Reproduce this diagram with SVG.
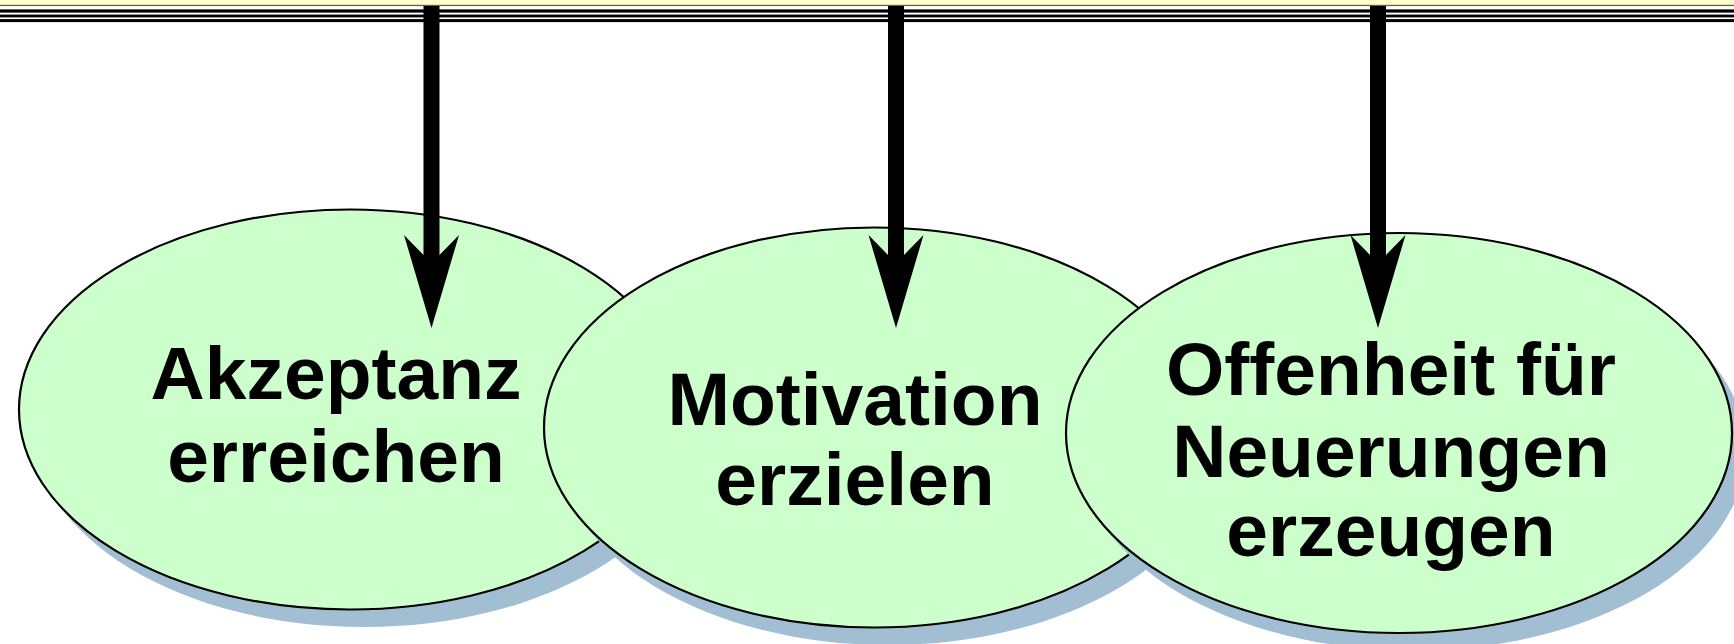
<svg xmlns="http://www.w3.org/2000/svg" width="1734" height="644" viewBox="0 0 1734 644">
  <style>
    .shadow { fill: #a2bed3; stroke: none; }
    .bubble { fill: #ccffcc; stroke: #000; stroke-width: 2.2; }
    .label { font-family: "Liberation Sans", Arial, sans-serif; font-weight: bold; font-size: 75px; fill: #000; text-anchor: middle; }
    .rule { fill: #000; }
    .shaft { stroke: #000; stroke-width: 16; fill: none; marker-end: url(#head); }
  </style>
  <defs>
    <marker id="head" markerUnits="userSpaceOnUse" orient="auto" refX="21" refY="0" markerWidth="120" markerHeight="80" viewBox="0 -40 120 80" overflow="visible">
      <path d="M0,-27.5 L20,-8 L20,8 L0,27.5 L93,0 Z" fill="#000"/>
    </marker>
  </defs>

  <rect width="1734" height="644" fill="#fff"/>

  <!-- header band -->
  <g id="header">
    <rect x="0" y="0" width="1734" height="5" fill="#ffffcc"/>
    <rect x="0" y="4.8" width="1734" height="1.3" fill="#5f5f45"/>
    <rect class="rule" x="0" y="9.4" width="1734" height="3.2"/>
    <rect class="rule" x="0" y="14.6" width="1734" height="2.8"/>
    <rect class="rule" x="0" y="19.1" width="1734" height="3"/>
  </g>

  <g id="node-akzeptanz">
    <ellipse class="shadow" cx="364" cy="427" rx="331" ry="200"/>
    <ellipse class="bubble" cx="350" cy="409.5" rx="331" ry="200"/>
    <text class="label" x="336" y="399">Akzeptanz</text>
    <text class="label" x="336" y="482">erreichen</text>
  </g>

  <g id="node-motivation">
    <ellipse class="shadow" cx="888" cy="445" rx="330" ry="200"/>
    <ellipse class="bubble" cx="874" cy="427.5" rx="330" ry="200"/>
    <text class="label" x="855" y="425">Motivation</text>
    <text class="label" x="855" y="505">erzielen</text>
  </g>

  <g id="node-offenheit">
    <ellipse class="shadow" cx="1413" cy="450.5" rx="333" ry="200"/>
    <ellipse class="bubble" cx="1399" cy="433" rx="333" ry="200"/>
    <text class="label" x="1391" y="395">Offenheit für</text>
    <text class="label" x="1391" y="477">Neuerungen</text>
    <text class="label" x="1391" y="556">erzeugen</text>
  </g>

  <g id="connectors">
    <line class="shaft" x1="431.5" y1="6" x2="431.5" y2="256"/>
    <line class="shaft" x1="896" y1="6" x2="896" y2="256"/>
    <line class="shaft" x1="1378" y1="6" x2="1378" y2="256"/>
  </g>
</svg>
